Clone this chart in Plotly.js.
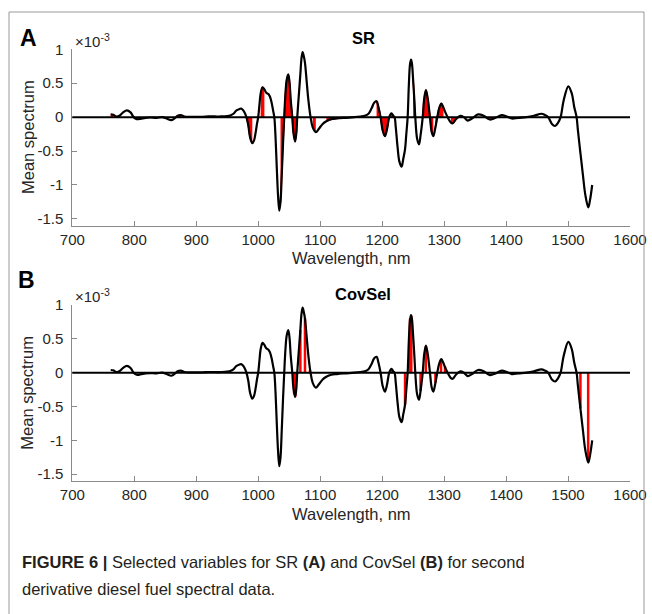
<!DOCTYPE html>
<html><head><meta charset="utf-8">
<script src="https://cdn.plot.ly/plotly-3.0.1.min.js"></script>
<style>html,body{margin:0;padding:0;background:#fff}</style>
</head><body><div id="chart" style="width:652px;height:614px"></div>
<script>
// Mean second-derivative spectrum (units of 1e-3)
const wavelength = [762,766,771,776,782,788,794,799,804,810,818,826,836,845,852,860,866,870,875,881,890,900,910,920,930,940,950,955,960,965,970,972.5,975,978,981,984,987,990.5,993,996,998,1000,1002,1004,1007,1010,1013,1016.5,1019,1021.5,1024,1026,1028,1030,1032,1034,1036,1038,1040,1042,1044,1046,1048.5,1050.5,1052.5,1055,1057,1059.5,1061.5,1063,1066,1068,1070,1071.7,1073.5,1075.5,1078,1081,1084.5,1088,1093,1098,1104,1110,1118,1127,1140,1155,1165,1172,1178,1183,1187,1191,1194,1197.5,1201,1204.5,1208,1211.5,1215,1218,1220,1222,1225,1228,1231.5,1234,1237,1239,1241.2,1243,1245,1246.6,1248,1250,1252,1253.5,1256.5,1259.5,1262,1265.5,1268,1270.7,1273.5,1277.2,1280,1282.6,1286,1289,1292,1295.5,1299,1302,1306.8,1311,1314,1319,1326,1332,1338,1345,1355,1364,1374,1383,1393,1401,1409,1420,1433,1445,1457,1463,1468,1474,1479,1484,1488,1493,1500.5,1506,1510,1513.8,1516,1520,1524,1528,1532.7,1535.5,1539];
const meanSpectrum = [0.04,0.035,0.01,0.02,0.07,0.10,0.07,0.0,-0.03,-0.025,-0.01,-0.005,-0.01,0.0,-0.02,-0.045,-0.01,0.02,0.03,0.01,0.005,0.005,0.005,0.01,0.01,0.01,0.015,0.025,0.05,0.1,0.12,0.127,0.11,0.07,0.0,-0.12,-0.3,-0.385,-0.35,-0.22,-0.1,0.0,0.18,0.35,0.44,0.41,0.36,0.34,0.3,0.22,0.1,0.0,-0.3,-0.75,-1.15,-1.38,-1.25,-0.85,-0.4,0.0,0.35,0.55,0.63,0.52,0.25,0.0,-0.24,-0.36,-0.24,0.0,0.38,0.63,0.88,0.96,0.9,0.8,0.55,0.25,0.0,-0.15,-0.22,-0.17,-0.1,-0.06,-0.03,-0.02,-0.01,0.0,0.01,0.02,0.05,0.13,0.21,0.235,0.15,0.0,-0.2,-0.28,-0.17,0.0,0.055,0.02,0.0,-0.15,-0.45,-0.66,-0.73,-0.62,-0.47,-0.25,0.0,0.45,0.78,0.85,0.8,0.55,0.25,0.0,-0.32,-0.40,-0.27,0.0,0.28,0.40,0.28,0.0,-0.22,-0.28,-0.15,0.0,0.13,0.20,0.14,0.07,-0.02,-0.08,-0.09,-0.03,0.02,0.0,-0.05,-0.02,0.04,0.02,-0.035,-0.01,0.03,0.01,-0.02,-0.01,0.0,0.02,0.05,0.03,0.0,-0.1,-0.13,-0.08,0.0,0.25,0.455,0.35,0.15,0.0,-0.2,-0.53,-0.85,-1.15,-1.33,-1.22,-1.0];

// SR selected wavelength ranges (nm)
const srStart = [760,779,803,854,870,981,1003,1036,1087,1110,1189,1249,1265,1285,1310,1335,1370,1389];
const srEnd   = [770,787,811,864,880,992,1011,1065,1097,1133,1218,1256,1283,1300,1320,1341,1384,1398];

// CovSel selected variables (nm) and their spectrum values (1e-3)
const covselWavelength = [1058,1060,1068,1075.5,1083.5,1215,1237,1245,1247,1262,1270.5,1286,1295,1301.5,1520,1532.5];
const covselValue      = [-0.32,-0.35,0.63,0.80,0.04,0.05,-0.47,0.80,0.84,-0.27,0.39,-0.15,0.19,0.09,-0.53,-1.32];

const xTicks = [700,800,900,1000,1100,1200,1300,1400,1500,1600];
const yTickVals = [-1.5,-1,-0.5,0,0.5,1];
const yTickText = ['-1.5','-1','-0.5','0','0.5','1'];

const W = 652, H = 614;
const px = v => v / W;
const py = v => 1 - v / H;
const FONT = 'Arial, "Liberation Sans", sans-serif';
const TXT = '#262626';
const AX = '#8a8a8a';

const traces = [];
// SR red fills
for (let r = 0; r < srStart.length; r++) {
  const xs = [], ys = [];
  for (let i = 0; i < wavelength.length; i++) {
    if (wavelength[i] >= srStart[r] && wavelength[i] <= srEnd[r]) { xs.push(wavelength[i]); ys.push(meanSpectrum[i]); }
  }
  traces.push({x: xs, y: ys, xaxis: 'x', yaxis: 'y', mode: 'lines', fill: 'tozeroy',
    fillcolor: '#ff0000', line: {color: '#ff0000', width: 1.5, shape: 'spline'}, hoverinfo: 'skip', showlegend: false});
}
traces.push({x: wavelength, y: meanSpectrum, xaxis: 'x', yaxis: 'y', mode: 'lines',
  line: {color: '#000', width: 2.2, shape: 'spline', smoothing: 1}, showlegend: false});

// CovSel red stems
const sx = [], sy = [];
covselWavelength.forEach((w, i) => { sx.push(w, w, null); sy.push(0, covselValue[i], null); });
traces.push({x: sx, y: sy, xaxis: 'x2', yaxis: 'y2', mode: 'lines',
  line: {color: '#ff0000', width: 2.5}, showlegend: false});
traces.push({x: wavelength, y: meanSpectrum, xaxis: 'x2', yaxis: 'y2', mode: 'lines',
  line: {color: '#000', width: 2.2, shape: 'spline', smoothing: 1}, showlegend: false});

function xax(anchor) {
  return {domain: [px(72.3), px(630)], range: [700, 1600], anchor: anchor,
    tickvals: xTicks, ticks: 'inside', ticklen: 5, tickcolor: AX, showline: true, linecolor: AX, linewidth: 1,
    showgrid: false, zeroline: false, tickfont: {family: FONT, size: 15, color: TXT}, fixedrange: true};
}
function yax(anchor, top, bottom) {
  return {domain: [py(bottom), py(top)], range: [-1.6, 1.0], anchor: anchor,
    tickvals: yTickVals, ticktext: yTickText, ticks: 'inside', ticklen: 5, tickcolor: AX, showline: true, linecolor: AX,
    linewidth: 1, showgrid: false, zeroline: false, ticklabelstandoff: 5, tickfont: {family: FONT, size: 15, color: TXT}, fixedrange: true};
}

function ann(text, x, y, size, opts) {
  return Object.assign({text: text, x: px(x), y: py(y), xref: 'paper', yref: 'paper', showarrow: false,
    xanchor: 'center', yanchor: 'middle', font: {family: FONT, size: size, color: TXT}}, opts || {});
}

const OFF = 255.7;
const annotations = [
  ann('<b>A</b>', 28.5, 37.5, 23, {font: {family: FONT, size: 23, color: '#000'}}),
  ann('<b>B</b>', 26, 280, 23, {font: {family: FONT, size: 23, color: '#000'}}),
  ann('<b>SR</b>', 363, 38, 16.5, {font: {family: FONT, size: 16.5, color: '#000'}}),
  ann('<b>CovSel</b>', 363, 38 + OFF, 16.5, {font: {family: FONT, size: 16.5, color: '#000'}}),
  ann('×10<sup>-3</sup>', 73, 40, 15, {xanchor: 'left'}),
  ann('×10<sup>-3</sup>', 73, 40 + OFF, 15, {xanchor: 'left'}),
  ann('Wavelength, nm', 351, 258, 16.5),
  ann('Wavelength, nm', 351, 258 + OFF, 16.5),
  ann('Mean spectrum', 27.5, 137.5, 16.5, {textangle: -90}),
  ann('Mean spectrum', 27.5, 137.5 + OFF, 16.5, {textangle: -90}),
  ann('<b>FIGURE 6 |</b> Selected variables for SR <b>(A)</b> and CovSel <b>(B)</b> for second', 20, 562, 16.5,
      {xanchor: 'left', font: {family: FONT, size: 16.5, color: '#231f20'}}),
  ann('derivative diesel fuel spectral data.', 20, 589, 16.5,
      {xanchor: 'left', font: {family: FONT, size: 16.5, color: '#231f20'}})
];

const shapes = [
  {type: 'line', xref: 'x domain', yref: 'y', x0: 0, x1: 1, y0: 0, y1: 0, line: {color: '#000', width: 2}, layer: 'above'},
  {type: 'line', xref: 'x2 domain', yref: 'y2', x0: 0, x1: 1, y0: 0, y1: 0, line: {color: '#000', width: 2}, layer: 'above'},
  {type: 'line', xref: 'paper', yref: 'paper', x0: px(9), x1: px(9), y0: 0, y1: py(12), line: {color: '#999', width: 1}},
  {type: 'line', xref: 'paper', yref: 'paper', x0: px(9), x1: px(644), y0: py(12), y1: py(12), line: {color: '#999', width: 1}},
  {type: 'line', xref: 'paper', yref: 'paper', x0: px(644), x1: px(644), y0: 0, y1: py(12), line: {color: '#999', width: 1}}
];

const layout = {
  width: W, height: H, margin: {l: 0, r: 0, t: 0, b: 0},
  paper_bgcolor: '#fff', plot_bgcolor: 'rgba(0,0,0,0)', showlegend: false,
  xaxis: xax('y'), yaxis: yax('x', 49.3, 225.7),
  xaxis2: xax('y2'), yaxis2: yax('x2', 305, 481),
  annotations: annotations, shapes: shapes
};

Plotly.newPlot('chart', traces, layout, {displayModeBar: false, staticPlot: true});
</script></body></html>
